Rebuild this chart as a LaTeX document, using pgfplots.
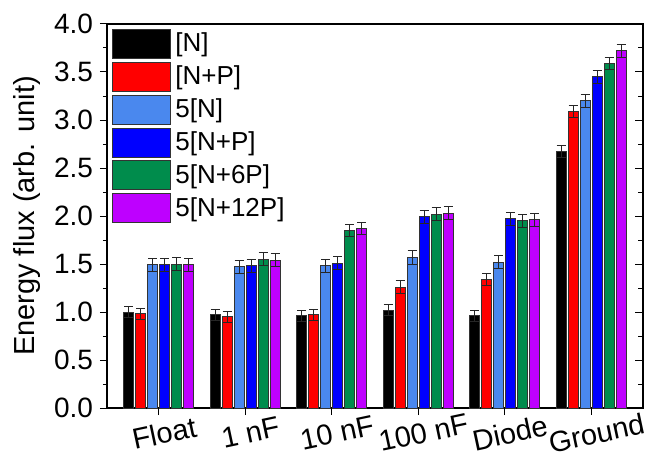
\documentclass[border=0pt]{standalone}
\usepackage{fontspec}
\setmainfont{Liberation Sans}
\usepackage{pgfplots}
\usepackage{pgfplotstable}
\pgfplotsset{compat=1.18}
\definecolor{cN}{RGB}{0,0,0}
\definecolor{cNP}{RGB}{255,0,0}
\definecolor{cFN}{RGB}{74,136,238}
\definecolor{cFNP}{RGB}{0,0,255}
\definecolor{cFN6}{RGB}{0,140,76}
\definecolor{cFN12}{RGB}{190,0,255}
\pgfplotstableread{
x y e
0 1.00 0.06
1 0.97 0.06
2 0.96 0.06
3 1.02 0.06
4 0.96 0.06
5 2.67 0.065
}\tN
\pgfplotstableread{
x y e
0 0.98 0.06
1 0.95 0.06
2 0.97 0.06
3 1.26 0.065
4 1.34 0.065
5 3.09 0.065
}\tNP
\pgfplotstableread{
x y e
0 1.49 0.065
1 1.47 0.065
2 1.48 0.065
3 1.57 0.07
4 1.52 0.065
5 3.20 0.065
}\tFN
\pgfplotstableread{
x y e
0 1.49 0.065
1 1.48 0.065
2 1.51 0.065
3 1.99 0.065
4 1.97 0.065
5 3.45 0.065
}\tFNP
\pgfplotstableread{
x y e
0 1.50 0.065
1 1.55 0.065
2 1.85 0.065
3 2.02 0.065
4 1.95 0.065
5 3.59 0.065
}\tFNsix
\pgfplotstableread{
x y e
0 1.49 0.065
1 1.54 0.065
2 1.87 0.065
3 2.03 0.065
4 1.96 0.065
5 3.72 0.065
}\tFNtw
\begin{document}
\begin{tikzpicture}
\pgfplotsset{
  errstyle/.style={error bars/.cd, y dir=both, y explicit,
    error bar style={line width=0.5pt, black!85},
    error mark options={rotate=90, mark size=2.3pt, line width=0.5pt, black!85}},
}
\begin{axis}[
  at={(0,0)}, anchor=south west,
  scale only axis, width=268pt, height=192pt,
  ymin=0, ymax=4, xmin=-0.6, xmax=5.6,
  ytick={0,0.5,...,4}, minor y tick num=1,
  yticklabel style={font=\fontsize{14}{16}\selectfont, /pgf/number format/.cd, fixed, fixed zerofill, precision=1},
  /pgf/number format/assume math mode=true,
  xtick={0,...,5}, xticklabels={Float,1 nF,10 nF,100 nF,Diode,Ground},
  xticklabel style={rotate=12, anchor=north, inner xsep=0pt, xshift=0.75pt, yshift=-0.5pt, font=\fontsize{14.5}{16}\selectfont},
  tick align=outside, xtick pos=bottom, ytick pos=left,
  major tick length=3.5pt, minor tick length=2pt,
  tick style={line width=0.5pt, black},
  axis line style={line width=0.6pt},
  ybar=1pt, bar width=5pt,
  ylabel={Energy flux (arb. unit)},
  ylabel style={font=\fontsize{14.5}{16}\selectfont},
  legend style={at={(0,1)}, anchor=north west, xshift=1.5pt, yshift=-0.7pt, draw=none, fill=none,
    font=\fontsize{13}{15}\selectfont, row sep=1.45pt, inner xsep=1pt, inner ysep=1.5pt,
    cells={anchor=west}, /tikz/every even column/.append style={column sep=1.5pt}},
  legend image code/.code={\draw[#1, line width=0.5pt] (0pt,-7.25pt) rectangle (29pt,7.25pt);},
]
\addplot[fill=cN, draw=black!80, line width=0.5pt, errstyle] table[x=x, y=y, y error=e] {\tN};
\addlegendentry{\relax[N]}
\addplot[fill=cNP, draw=black!80, line width=0.5pt, errstyle] table[x=x, y=y, y error=e] {\tNP};
\addlegendentry{\relax[N+P]}
\addplot[fill=cFN, draw=black!80, line width=0.5pt, errstyle] table[x=x, y=y, y error=e] {\tFN};
\addlegendentry{5[N]}
\addplot[fill=cFNP, draw=black!80, line width=0.5pt, errstyle] table[x=x, y=y, y error=e] {\tFNP};
\addlegendentry{5[N+P]}
\addplot[fill=cFN6, draw=black!80, line width=0.5pt, errstyle] table[x=x, y=y, y error=e] {\tFNsix};
\addlegendentry{5[N+6P]}
\addplot[fill=cFN12, draw=black!80, line width=0.5pt, errstyle] table[x=x, y=y, y error=e] {\tFNtw};
\addlegendentry{5[N+12P]}
\end{axis}
\begin{axis}[
  at={(0,0)}, anchor=south west,
  scale only axis, width=268pt, height=192pt,
  ymin=0, ymax=4, xmin=-0.6, xmax=5.6,
  axis x line=none, axis y line*=right,
  ytick={0,0.5,...,4}, minor y tick num=1, yticklabels={},
  tick align=inside, major tick length=4pt, minor tick length=2.5pt,
  tick style={line width=0.5pt, black},
  axis line style={line width=0.6pt, -},
]
\end{axis}
\pgfresetboundingbox
\path (-53.5pt,-23.5pt) rectangle (269.5pt,204pt);
\end{tikzpicture}
\end{document}
